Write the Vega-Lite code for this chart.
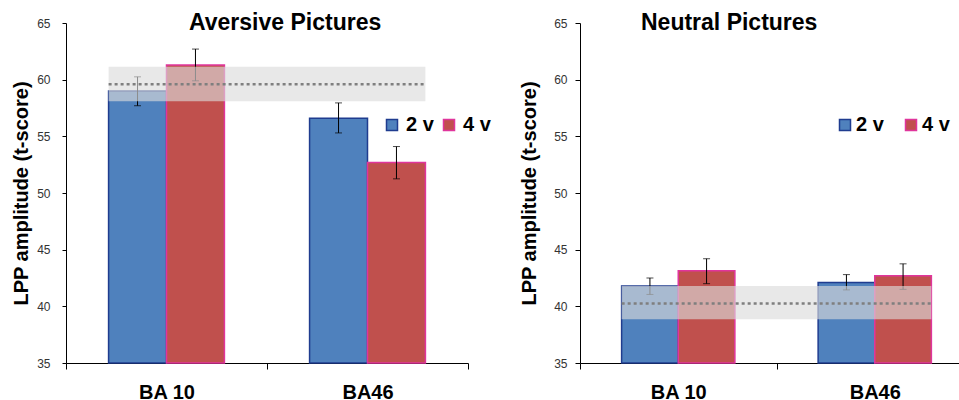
{
  "$schema": "https://vega.github.io/schema/vega-lite/v6.json",
  "padding": {"left": 11, "top": 12, "right": -14, "bottom": -1},
  "background": "white",
  "config": {
    "view": {"stroke": null},
    "font": "Liberation Sans",
    "axis": {"grid": false, "domainColor": "black", "tickColor": "black", "domainWidth": 1, "tickWidth": 1}
  },
  "datasets": {
    "aversive": [
      {"region": "BA 10", "group": "2 v", "value": 59.0, "lo": 57.7, "hi": 60.25},
      {"region": "BA 10", "group": "4 v", "value": 61.3, "lo": 59.9, "hi": 62.7},
      {"region": "BA46", "group": "2 v", "value": 56.6, "lo": 55.3, "hi": 57.95},
      {"region": "BA46", "group": "4 v", "value": 52.7, "lo": 51.25, "hi": 54.1}
    ],
    "aversiveBand": [{"from": "BA 10", "to": "BA46", "low": 58.1, "high": 61.15, "mean": 59.6}],
    "neutral": [
      {"region": "BA 10", "group": "2 v", "value": 41.8, "lo": 41.05, "hi": 42.5},
      {"region": "BA 10", "group": "4 v", "value": 43.15, "lo": 42.0, "hi": 44.2},
      {"region": "BA46", "group": "2 v", "value": 42.1, "lo": 41.45, "hi": 42.8},
      {"region": "BA46", "group": "4 v", "value": 42.7, "lo": 41.5, "hi": 43.75}
    ],
    "neutralBand": [{"from": "BA 10", "to": "BA46", "low": 38.85, "high": 41.8, "mean": 40.25}]
  },
  "spacing": 112,
  "bounds": "flush",
  "resolve": {"scale": {"fill": "independent", "stroke": "independent", "x": "independent", "y": "independent", "xOffset": "independent"}},
  "hconcat": [
    {
      "width": 402,
      "height": 340,
      "title": {"text": "Aversive Pictures", "anchor": "start", "frame": "group", "dx": 123, "offset": 0, "baseline": "alphabetic", "dy": 36, "fontSize": 23, "fontWeight": "bold", "font": "Liberation Sans", "color": "black"},
      "layer": [
        {
          "data": {"name": "aversive"},
          "mark": {"type": "bar", "strokeWidth": 1.5},
          "encoding": {
            "x": {"field": "region", "type": "nominal", "scale": {"domain": ["BA 10", "BA46"], "paddingInner": 0, "paddingOuter": 0},
                  "axis": {"title": null, "labelAngle": 0, "labelFontSize": 20, "labelFontWeight": "bold", "labelColor": "black", "labelPadding": 13, "tickSize": 6, "tickBand": "extent"}},
            "xOffset": {"field": "group", "type": "nominal", "scale": {"domain": ["2 v", "4 v"], "paddingInner": 0, "paddingOuter": 0.735}},
            "y": {"field": "value", "type": "quantitative", "scale": {"domain": [35, 65], "zero": false, "nice": false, "clamp": true},
                  "axis": {"values": [35, 40, 45, 50, 55, 60, 65], "title": "LPP amplitude (t-score)", "titleFontSize": 20, "titleFontWeight": "bold", "titleColor": "black", "titlePadding": 5, "labelFontSize": 12, "labelColor": "#333333", "labelPadding": 12, "tickSize": 4}},
            "fill": {"field": "group", "type": "nominal", "scale": {"domain": ["2 v", "4 v"], "range": ["#4f81bd", "#c0504d"]},
                     "legend": {"title": null, "orient": "none", "legendX": 316, "legendY": 92, "direction": "horizontal", "symbolType": "square", "symbolSize": 121, "symbolStrokeWidth": 1.5, "labelFontSize": 20, "labelFontWeight": "bold", "labelColor": "black", "labelOffset": 4, "columnPadding": 5}},
            "stroke": {"field": "group", "type": "nominal", "scale": {"domain": ["2 v", "4 v"], "range": ["#1f3c8f", "#e0359c"]}}
          }
        },
        {
          "data": {"name": "aversive"},
          "mark": {"type": "rule", "color": "black", "strokeWidth": 1},
          "encoding": {
            "x": {"field": "region", "type": "nominal"},
            "xOffset": {"field": "group", "type": "nominal"},
            "y": {"field": "lo", "type": "quantitative"},
            "y2": {"field": "hi"}
          }
        },
        {
          "data": {"name": "aversive"},
          "mark": {"type": "tick", "color": "black", "size": 7, "thickness": 1},
          "encoding": {
            "x": {"field": "region", "type": "nominal"},
            "xOffset": {"field": "group", "type": "nominal"},
            "y": {"field": "lo", "type": "quantitative"}
          }
        },
        {
          "data": {"name": "aversive"},
          "mark": {"type": "tick", "color": "black", "size": 7, "thickness": 1},
          "encoding": {
            "x": {"field": "region", "type": "nominal"},
            "xOffset": {"field": "group", "type": "nominal"},
            "y": {"field": "hi", "type": "quantitative"}
          }
        },
        {
          "data": {"name": "aversiveBand"},
          "mark": {"type": "rect", "color": "#dbdbdb", "opacity": 0.64},
          "encoding": {
            "x": {"field": "from", "type": "nominal", "bandPosition": 0.212},
            "x2": {"field": "to", "bandPosition": 0.788},
            "y": {"field": "low", "type": "quantitative"},
            "y2": {"field": "high"}
          }
        },
        {
          "data": {"name": "aversiveBand"},
          "mark": {"type": "rule", "color": "#7f7f7f", "strokeWidth": 2.5, "strokeDash": [3, 3]},
          "encoding": {
            "x": {"field": "from", "type": "nominal", "bandPosition": 0.212},
            "x2": {"field": "to", "bandPosition": 0.788},
            "y": {"field": "mean", "type": "quantitative"}
          }
        }
      ]
    },
    {
      "width": 393,
      "height": 340,
      "title": {"text": "Neutral Pictures", "anchor": "start", "frame": "group", "dx": 61, "offset": 0, "baseline": "alphabetic", "dy": 36, "fontSize": 23, "fontWeight": "bold", "font": "Liberation Sans", "color": "black"},
      "layer": [
        {
          "data": {"name": "neutral"},
          "mark": {"type": "bar", "strokeWidth": 1.5},
          "encoding": {
            "x": {"field": "region", "type": "nominal", "scale": {"domain": ["BA 10", "BA46"], "paddingInner": 0, "paddingOuter": 0},
                  "axis": {"title": null, "labelAngle": 0, "labelFontSize": 20, "labelFontWeight": "bold", "labelColor": "black", "labelPadding": 13, "tickSize": 6, "tickBand": "extent"}},
            "xOffset": {"field": "group", "type": "nominal", "scale": {"domain": ["2 v", "4 v"], "paddingInner": 0, "paddingOuter": 0.735}},
            "y": {"field": "value", "type": "quantitative", "scale": {"domain": [35, 65], "zero": false, "nice": false, "clamp": true},
                  "axis": {"values": [35, 40, 45, 50, 55, 60, 65], "title": "LPP amplitude (t-score)", "titleFontSize": 20, "titleFontWeight": "bold", "titleColor": "black", "titlePadding": 14, "labelFontSize": 12, "labelColor": "#333333", "labelPadding": 8, "tickSize": 5}},
            "fill": {"field": "group", "type": "nominal", "scale": {"domain": ["2 v", "4 v"], "range": ["#4f81bd", "#c0504d"]},
                     "legend": {"title": null, "orient": "none", "legendX": 255, "legendY": 92, "direction": "horizontal", "symbolType": "square", "symbolSize": 121, "symbolStrokeWidth": 1.5, "labelFontSize": 20, "labelFontWeight": "bold", "labelColor": "black", "labelOffset": 1, "columnPadding": 17}},
            "stroke": {"field": "group", "type": "nominal", "scale": {"domain": ["2 v", "4 v"], "range": ["#1f3c8f", "#e0359c"]}}
          }
        },
        {
          "data": {"name": "neutral"},
          "mark": {"type": "rule", "color": "black", "strokeWidth": 1},
          "encoding": {
            "x": {"field": "region", "type": "nominal"},
            "xOffset": {"field": "group", "type": "nominal"},
            "y": {"field": "lo", "type": "quantitative"},
            "y2": {"field": "hi"}
          }
        },
        {
          "data": {"name": "neutral"},
          "mark": {"type": "tick", "color": "black", "size": 7, "thickness": 1},
          "encoding": {
            "x": {"field": "region", "type": "nominal"},
            "xOffset": {"field": "group", "type": "nominal"},
            "y": {"field": "lo", "type": "quantitative"}
          }
        },
        {
          "data": {"name": "neutral"},
          "mark": {"type": "tick", "color": "black", "size": 7, "thickness": 1},
          "encoding": {
            "x": {"field": "region", "type": "nominal"},
            "xOffset": {"field": "group", "type": "nominal"},
            "y": {"field": "hi", "type": "quantitative"}
          }
        },
        {
          "data": {"name": "neutralBand"},
          "mark": {"type": "rect", "color": "#dbdbdb", "opacity": 0.64},
          "encoding": {
            "x": {"field": "from", "type": "nominal", "bandPosition": 0.212},
            "x2": {"field": "to", "bandPosition": 0.788},
            "y": {"field": "low", "type": "quantitative"},
            "y2": {"field": "high"}
          }
        },
        {
          "data": {"name": "neutralBand"},
          "mark": {"type": "rule", "color": "#7f7f7f", "strokeWidth": 2.5, "strokeDash": [3, 3]},
          "encoding": {
            "x": {"field": "from", "type": "nominal", "bandPosition": 0.212},
            "x2": {"field": "to", "bandPosition": 0.788},
            "y": {"field": "mean", "type": "quantitative"}
          }
        }
      ]
    }
  ]
}
